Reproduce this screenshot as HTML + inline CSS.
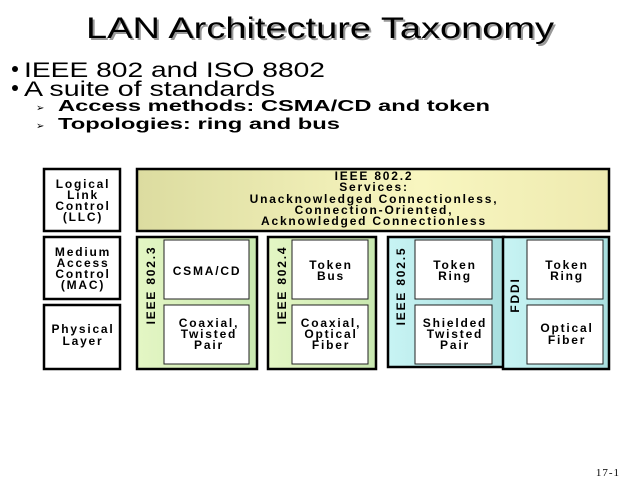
<!DOCTYPE html>
<html><head><style>
html,body{margin:0;padding:0;background:#fff}
svg{display:block}
text{font-family:"Liberation Sans",Arial,sans-serif}
.d{font-size:12px;font-weight:bold;letter-spacing:1.8px;text-anchor:middle;fill:#000}
</style></head><body>
<svg width="640" height="480" viewBox="0 0 640 480" xmlns="http://www.w3.org/2000/svg">
<defs>
<linearGradient id="y" x1="0" x2="1" y1="0" y2="0"><stop offset="0" stop-color="#dcdca0"/><stop offset="0.6" stop-color="#f8f6c0"/><stop offset="1" stop-color="#eeeab0"/></linearGradient>
<linearGradient id="g" x1="0" x2="1"><stop offset="0" stop-color="#e4f6c4"/><stop offset="1" stop-color="#c8e8b0"/></linearGradient>
<linearGradient id="c" x1="0" x2="1"><stop offset="0" stop-color="#c8f4f4"/><stop offset="1" stop-color="#a8dede"/></linearGradient>
</defs>
<text x="88" y="40" font-size="30" textLength="468" lengthAdjust="spacingAndGlyphs" fill="#999">LAN Architecture Taxonomy</text>
<text x="86" y="38" font-size="30" textLength="468" lengthAdjust="spacingAndGlyphs" fill="#000">LAN Architecture Taxonomy</text>
<circle cx="15" cy="69" r="3" fill="#000"/>
<text x="24" y="77" font-size="21" textLength="301" lengthAdjust="spacingAndGlyphs">IEEE 802 and ISO 8802</text>
<circle cx="15" cy="88" r="3" fill="#000"/>
<text x="24" y="96" font-size="21" textLength="251" lengthAdjust="spacingAndGlyphs">A suite of standards</text>
<text x="36" y="111" font-size="10">➢</text>
<text x="58" y="111" font-size="16" font-weight="bold" textLength="432" lengthAdjust="spacingAndGlyphs">Access methods: CSMA/CD and token</text>
<text x="36" y="129" font-size="10">➢</text>
<text x="58" y="129" font-size="16" font-weight="bold" textLength="282" lengthAdjust="spacingAndGlyphs">Topologies: ring and bus</text>

<g stroke="#000" stroke-width="2.5" fill="#fff">
<rect x="44" y="169" width="76" height="62"/>
<rect x="44" y="237" width="76" height="62"/>
<rect x="44" y="305" width="76" height="64"/>
<rect x="137" y="169" width="472" height="62" fill="url(#y)"/>
<rect x="137" y="237" width="120" height="132" fill="url(#g)"/>
<rect x="268" y="237" width="108" height="132" fill="url(#g)"/>
<rect x="388" y="237" width="116" height="130" fill="url(#c)"/>
<rect x="503" y="237" width="106" height="132" fill="url(#c)"/>
</g>
<g stroke="#222" stroke-width="1" fill="#fff">
<rect x="164" y="240" width="85" height="59"/>
<rect x="164" y="305" width="85" height="59"/>
<rect x="292" y="240" width="76" height="59"/>
<rect x="292" y="305" width="76" height="59"/>
<rect x="415" y="240" width="77" height="59"/>
<rect x="415" y="305" width="77" height="59"/>
<rect x="527" y="240" width="76" height="59"/>
<rect x="527" y="305" width="76" height="59"/>
</g>
<g>
<text x="83" y="188" class="d">Logical</text><text x="83" y="199" class="d">Link</text><text x="83" y="210" class="d">Control</text><text x="83" y="221" class="d">(LLC)</text>
<text x="83" y="256" class="d">Medium</text><text x="83" y="267" class="d">Access</text><text x="83" y="278" class="d">Control</text><text x="83" y="289" class="d">(MAC)</text>
<text x="83" y="333" class="d">Physical</text><text x="83" y="345" class="d">Layer</text>
<text x="374" y="180" class="d">IEEE 802.2</text>
<text x="374" y="191" class="d">Services:</text>
<text x="374" y="203" class="d">Unacknowledged Connectionless,</text>
<text x="374" y="214" class="d">Connection-Oriented,</text>
<text x="374" y="225" class="d">Acknowledged Connectionless</text>
<text x="207" y="275" class="d">CSMA/CD</text>
<text x="209" y="327" class="d">Coaxial,</text><text x="209" y="338" class="d">Twisted</text><text x="209" y="349" class="d">Pair</text>
<text x="331" y="269" class="d">Token</text><text x="331" y="280" class="d">Bus</text>
<text x="331" y="327" class="d">Coaxial,</text><text x="331" y="338" class="d">Optical</text><text x="331" y="349" class="d">Fiber</text>
<text x="455" y="269" class="d">Token</text><text x="455" y="280" class="d">Ring</text>
<text x="455" y="327" class="d">Shielded</text><text x="455" y="338" class="d">Twisted</text><text x="455" y="349" class="d">Pair</text>
<text x="567" y="269" class="d">Token</text><text x="567" y="280" class="d">Ring</text>
<text x="567" y="332" class="d">Optical</text><text x="567" y="344" class="d">Fiber</text>
<text class="d" transform="translate(151,285) rotate(-90)" dy="4">IEEE 802.3</text>
<text class="d" transform="translate(282,285) rotate(-90)" dy="4">IEEE 802.4</text>
<text class="d" transform="translate(401,286) rotate(-90)" dy="4">IEEE 802.5</text>
<text class="d" transform="translate(515,295) rotate(-90)" dy="4">FDDI</text>
</g>
<text x="620" y="476" font-size="11" text-anchor="end" letter-spacing="1" style="font-family:'Liberation Serif',serif">17-1</text>
</svg>
</body></html>
